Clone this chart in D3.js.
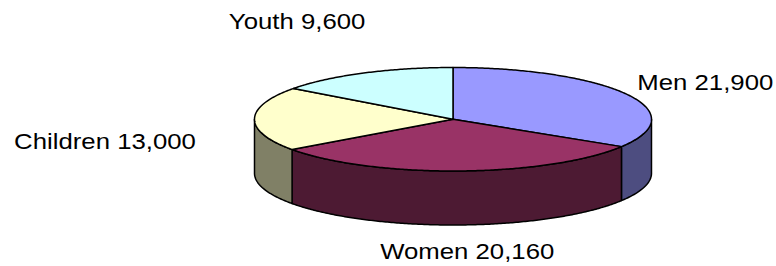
<!DOCTYPE html>
<meta charset="utf-8">
<style>
body { margin: 0; background: #fff; }
text { font-family: Arial, "Liberation Sans", sans-serif; fill: #000; }
</style>
<body>
<script src="https://d3js.org/d3.v7.min.js"></script>
<script>

var categories = ["Men", "Women", "Children", "Youth"]
var values = [21900, 20160, 13000, 9600]
var topColors = ["#9999ff", "#993366", "#ffffcc", "#ccffff"]
var sideColors = ["#4d4d80", "#4d1a33", "#808066", "#668080"]
// small nudges for the label boxes, in pixels
var labelNudge = [[-10, 9], [4, -17], [-48, 22], [-21, -13]]

var width = 776
var height = 266

var svg = d3.select("body").append("svg")
    .attr("width", width)
    .attr("height", height)

// pie geometry (tilted ellipse)
var cx = 453, cy = 119.25, rx = 198.5, ry = 51.75, depth = 54
var rxL = 300, ryL = 95

var fmt = d3.format(",")
var topColor = d3.scaleOrdinal().domain(categories).range(topColors)
var sideColor = d3.scaleOrdinal().domain(categories).range(sideColors)

var data = categories.map(function(c, i) { return {name: c, value: values[i]} })

var pie = d3.pie()
    .value(function(d) { return d.value })
    .sort(null)

var arcs = pie(data)

function px(a) { return cx + rx * Math.sin(a) }
function py(a) { return cy - ry * Math.cos(a) }

var line = d3.line()

function arcPoints(a0, a1, dy) {
  var n = Math.max(2, Math.ceil((a1 - a0) / 0.01))
  var pts = []
  for (var i = 0; i <= n; i++) {
    var a = a0 + (a1 - a0) * i / n
    pts.push([px(a), py(a) + dy])
  }
  return pts
}

// side walls (front half only: angles between PI/2 and 3PI/2)
var sides = svg.append("g")
arcs.forEach(function(d) {
  var a0 = Math.max(d.startAngle, Math.PI / 2)
  var a1 = Math.min(d.endAngle, Math.PI * 1.5)
  if (a1 <= a0) return
  var upper = arcPoints(a0, a1, 0)
  var lower = arcPoints(a0, a1, depth).reverse()
  sides.append("path")
      .attr("d", line(upper.concat(lower)) + "Z")
      .attr("fill", sideColor(d.data.name))
      .attr("stroke", "#000")
      .attr("stroke-width", 1.5)
      .attr("stroke-linejoin", "round")
})

// top faces
var tops = svg.append("g")
arcs.forEach(function(d) {
  var pts = [[cx, cy]].concat(arcPoints(d.startAngle, d.endAngle, 0))
  tops.append("path")
      .attr("d", line(pts) + "Z")
      .attr("fill", topColor(d.data.name))
      .attr("stroke", "#000")
      .attr("stroke-width", 1.5)
      .attr("stroke-linejoin", "round")
})

// labels
arcs.forEach(function(d, i) {
  var a = (d.startAngle + d.endAngle) / 2
  var x = cx + rxL * Math.sin(a) + labelNudge[i][0]
  var y = cy - ryL * Math.cos(a) + (Math.cos(a) < 0 ? depth : 0) + labelNudge[i][1]
  svg.append("text")
      .attr("transform", "translate(" + x + "," + (y + 8) + ") scale(1.12,1)")
      .attr("text-anchor", "middle")
      .style("font-size", "23px")
      .text(d.data.name + " " + fmt(d.data.value))
})

</script>
